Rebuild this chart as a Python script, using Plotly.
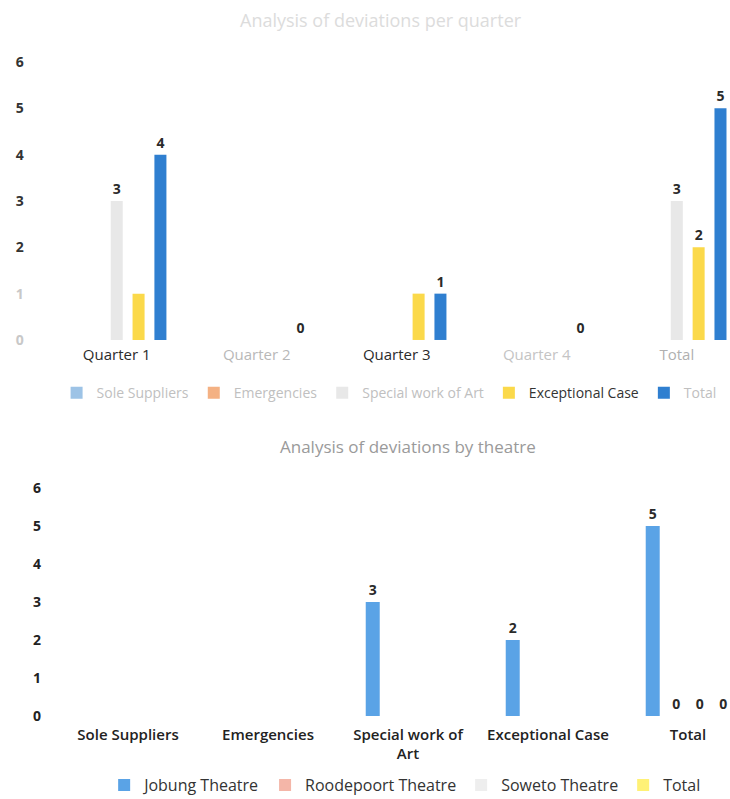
import plotly.graph_objects as go

# ---- Deviations per quarter ----
quarters = ["Quarter 1", "Quarter 2", "Quarter 3", "Quarter 4", "Total"]
quarter_label_colors = ["#2b2b2b", "#b8b8b8", "#2b2b2b", "#c4c4c4", "#b0b0b0"]
sole_suppliers = [0, 0, 0, 0, 0]
emergencies = [0, 0, 0, 0, 0]
special_art = [3, 0, 0, 0, 3]
exceptional = [1, 0, 1, 0, 2]
quarter_total = [4, 0, 1, 0, 5]
special_art_text = ["3", "", "", "", "3"]
exceptional_text = ["", "", "", "", "2"]
quarter_total_text = ["4", "0", "1", "0", "5"]

# ---- Deviations by theatre ----
deviation_types = ["Sole Suppliers", "Emergencies", "Special work of<br>Art",
                   "Exceptional Case", "Total"]
jobung = [0, 0, 3, 2, 5]
roodepoort = [0, 0, 0, 0, 0]
soweto = [0, 0, 0, 0, 0]
theatre_total = [0, 0, 0, 0, 0]
jobung_text = ["", "", "3", "2", "5"]
roodepoort_text = ["", "", "", "", "0"]
soweto_text = ["", "", "", "", "0"]
theatre_total_text = ["", "", "", "", "0"]

y_ticks = [0, 1, 2, 3, 4, 5, 6]
top_y_colors = ["#c8c8c8", "#c8c8c8", "#333", "#333", "#333", "#333", "#333"]

FONT = "Open Sans"
label_font = dict(family=FONT, size=14, color="#2a2a2a", weight="bold")


def colored(text, color):
    return f"<span style='color:{color}'>{text}</span>"


fig = go.Figure()

top_series = [
    ("Sole Suppliers", sole_suppliers, None, "#9dc3e6", "#c0c0c0"),
    ("Emergencies", emergencies, None, "#f4b183", "#c0c0c0"),
    ("Special work of Art", special_art, special_art_text, "#e8e8e8", "#c0c0c0"),
    ("Exceptional Case", exceptional, exceptional_text, "#fbd94a", "#333333"),
    ("Total", quarter_total, quarter_total_text, "#2f7fd0", "#c0c0c0"),
]
for name, vals, txt, col, lcol in top_series:
    fig.add_trace(go.Bar(
        x=quarters, y=vals, name=colored(name, lcol),
        marker=dict(color=col, line=dict(width=0)),
        text=txt, textposition="outside", textfont=label_font,
        cliponaxis=False, xaxis="x", yaxis="y", legend="legend",
        offsetgroup=name,
    ))

# Bottom chart uses a slightly tighter group: 4 slots of 0.168 category units,
# bars 0.1 units wide.
slot = 0.168
bar_w = 0.1
bottom_series = [
    ("Jobung Theatre", jobung, jobung_text, "#5aa3e6"),
    ("Roodepoort Theatre", roodepoort, roodepoort_text, "#f4b6a8"),
    ("Soweto Theatre", soweto, soweto_text, "#eeeeee"),
    ("Total", theatre_total, theatre_total_text, "#fff176"),
]
for i, (name, vals, txt, col) in enumerate(bottom_series):
    fig.add_trace(go.Bar(
        x=deviation_types, y=vals, name=colored(name, "#333333"),
        marker=dict(color=col, line=dict(width=0)),
        text=txt, textposition="outside", textfont=label_font,
        cliponaxis=False, xaxis="x2", yaxis="y2", legend="legend2",
        width=bar_w, offset=(i - 1.5) * slot - bar_w / 2,
    ))

axis_common = dict(showgrid=False, zeroline=False, showline=False, ticks="")

fig.update_layout(
    width=730, height=799,
    margin=dict(l=0, r=0, t=0, b=0, autoexpand=False),
    paper_bgcolor="white", plot_bgcolor="white",
    font=dict(family=FONT, size=13, color="#333"),
    barmode="group", bargap=0.22, bargroupgap=0.45,
    xaxis=dict(domain=[0.064, 1.0], anchor="y", range=[-0.5, 4.38],
               tickmode="array", tickvals=quarters,
               ticktext=[colored(q, c) for q, c in zip(quarters, quarter_label_colors)],
               tickfont=dict(size=15), ticklabelstandoff=4, **axis_common),
    yaxis=dict(domain=[0.5745, 0.9224], anchor="x", range=[0, 6],
               tickmode="array", tickvals=y_ticks,
               ticktext=[colored(str(v), c) for v, c in zip(y_ticks, top_y_colors)],
               tickfont=dict(size=14, weight="bold"), ticklabelstandoff=22,
               **axis_common),
    xaxis2=dict(domain=[0.0795, 1.0], anchor="y2", range=[-0.5, 4.3],
                tickfont=dict(size=15, color="#222", weight=600),
                ticklabelstandoff=8, **axis_common),
    yaxis2=dict(domain=[0.1039, 0.3892], anchor="x2", range=[0, 6],
                tickvals=y_ticks, tickfont=dict(size=14, color="#222", weight="bold"),
                ticklabelstandoff=16, **axis_common),
    legend=dict(orientation="h", x=0.533, xanchor="center", y=0.508, yanchor="middle",
                font=dict(size=14), itemwidth=30, tracegroupgap=0,
                bgcolor="rgba(0,0,0,0)"),
    legend2=dict(orientation="h", x=0.555, xanchor="center", y=0.0175, yanchor="middle",
                 font=dict(size=16, color="#222"), itemwidth=30,
                 bgcolor="rgba(0,0,0,0)"),
    annotations=[
        dict(text="Analysis of deviations per quarter", x=0.522, y=0.975,
             xref="paper", yref="paper", xanchor="center", yanchor="middle",
             showarrow=False, font=dict(size=18, color="#dcdcdc")),
        dict(text="Analysis of deviations by theatre", x=0.559, y=0.4406,
             xref="paper", yref="paper", xanchor="center", yanchor="middle",
             showarrow=False, font=dict(size=17, color="#9a9a9a")),
    ],
    showlegend=True,
)

fig.write_html("out.html")
